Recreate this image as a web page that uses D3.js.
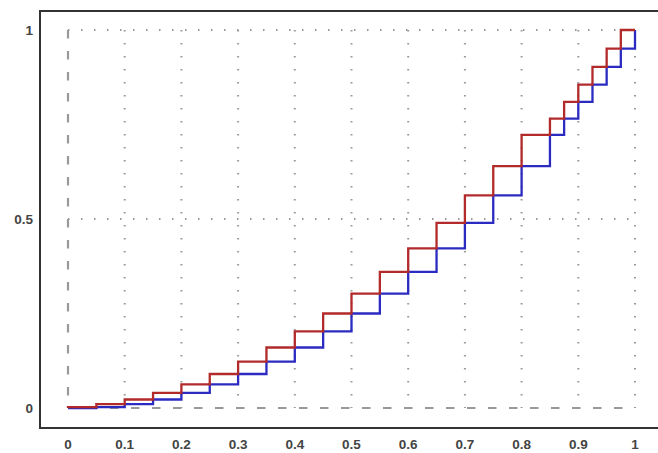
<!DOCTYPE html>
<html>
<head>
<meta charset="utf-8">
<script src="https://cdn.jsdelivr.net/npm/d3@7"></script>
<style>
  body { margin: 0; background: #fff; }
  text { font-family: "Liberation Sans", Arial, sans-serif; }
</style>
</head>
<body>
<div id="chart"></div>
<script>
// partition points and function values
var breaks = [0, 0.05, 0.1, 0.15, 0.2, 0.25, 0.3, 0.35, 0.4, 0.45, 0.5, 0.55,
  0.6, 0.65, 0.7, 0.75, 0.8, 0.85, 0.875, 0.9, 0.925, 0.95, 0.975, 1];
var values = [0, 0.0025, 0.01, 0.0225, 0.04, 0.0625, 0.09, 0.1225, 0.16, 0.2025,
  0.25, 0.3025, 0.36, 0.4225, 0.49, 0.5625, 0.64, 0.7225, 0.7656, 0.81,
  0.8556, 0.9025, 0.9506, 1];
var xTicks = [0, 0.1, 0.2, 0.3, 0.4, 0.5, 0.6, 0.7, 0.8, 0.9, 1];
var yTicks = [0, 0.5, 1];

var svgWidth = 658;
var svgHeight = 453;

var svg = d3.select("#chart")
  .append("svg")
  .attr("width", svgWidth)
  .attr("height", svgHeight);

var x = d3.scaleLinear().domain([0, 1]).range([68, 635]);
var y = d3.scaleLinear().domain([0, 1]).range([408, 30]);

var pts = breaks.map(function(b, i) { return [b, values[i]]; });

// frame (right side runs off the picture)
svg.append("path")
  .attr("d", "M" + (svgWidth + 5) + ",11 H40 V428 H" + (svgWidth + 5))
  .attr("fill", "none")
  .attr("stroke", "#333")
  .attr("stroke-width", 2);

// dotted grid
var grid = svg.append("g")
  .attr("stroke", "#999")
  .attr("stroke-width", 2)
  .attr("stroke-dasharray", "1.5,11.5")
  .attr("fill", "none");

grid.selectAll(".vgrid")
  .data(xTicks.filter(function(d) { return d > 0; }))
  .enter()
  .append("line")
  .attr("x1", function(d) { return x(d); })
  .attr("x2", function(d) { return x(d); })
  .attr("y1", y(1))
  .attr("y2", y(0));

grid.selectAll(".hgrid")
  .data(yTicks.filter(function(d) { return d > 0; }))
  .enter()
  .append("line")
  .attr("x1", x(0))
  .attr("x2", x(1))
  .attr("y1", function(d) { return y(d); })
  .attr("y2", function(d) { return y(d); });

// dashed axes through zero
var axes = svg.append("g")
  .attr("stroke", "#999")
  .attr("stroke-width", 2.2)
  .attr("stroke-dasharray", "8.5,12.5");

axes.append("line")
  .attr("x1", x(0)).attr("x2", x(1))
  .attr("y1", y(0)).attr("y2", y(0));

axes.append("line")
  .attr("x1", x(0)).attr("x2", x(0))
  .attr("y1", y(1)).attr("y2", y(0));

// lower sum (blue) and upper sum (red) step lines
var lower = d3.line()
  .x(function(d) { return x(d[0]); })
  .y(function(d) { return y(d[1]); })
  .curve(d3.curveStepAfter);

var upper = d3.line()
  .x(function(d) { return x(d[0]); })
  .y(function(d) { return y(d[1]); })
  .curve(d3.curveStepBefore);

svg.append("path")
  .attr("d", lower(pts))
  .attr("fill", "none")
  .attr("stroke", "#2b2bc2")
  .attr("stroke-width", 2.3);

svg.append("path")
  .attr("d", upper(pts))
  .attr("fill", "none")
  .attr("stroke", "#b22a2a")
  .attr("stroke-width", 2.3);

// tick labels
svg.selectAll(".xlabel")
  .data(xTicks)
  .enter()
  .append("text")
  .attr("x", function(d) { return x(d); })
  .attr("y", 449)
  .attr("text-anchor", "middle")
  .attr("font-size", "13.5px")
  .attr("font-weight", "bold")
  .attr("fill", "#444")
  .text(function(d) { return d; });

svg.selectAll(".ylabel")
  .data(yTicks)
  .enter()
  .append("text")
  .attr("x", 33)
  .attr("y", function(d) { return y(d) + 5; })
  .attr("text-anchor", "end")
  .attr("font-size", "13.5px")
  .attr("font-weight", "bold")
  .attr("fill", "#444")
  .text(function(d) { return d; });
</script>
</body>
</html>
